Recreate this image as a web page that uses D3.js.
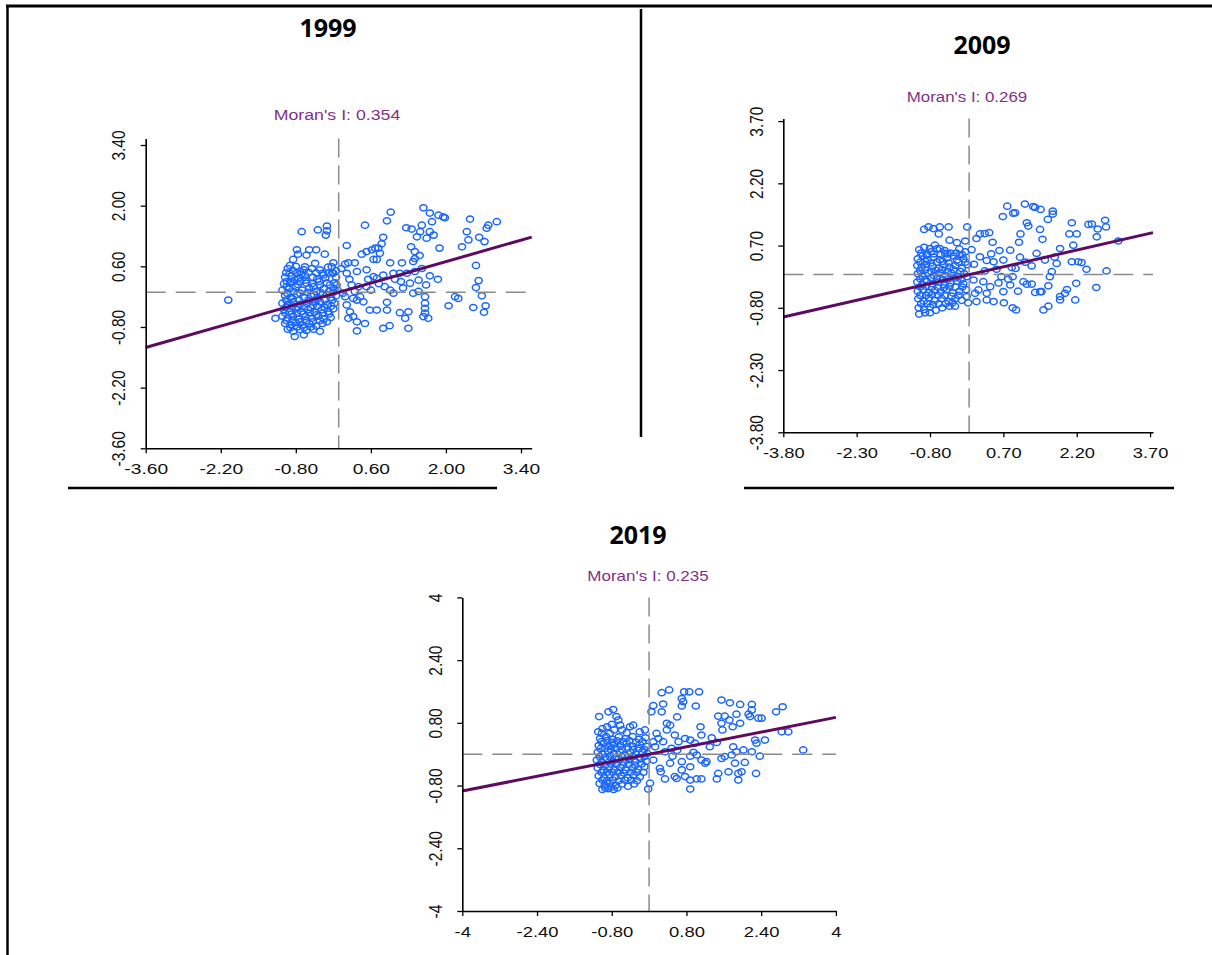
<!DOCTYPE html>
<html>
<head>
<meta charset="utf-8">
<script src="https://cdn.jsdelivr.net/npm/d3@7"></script>
<style>
body { margin: 0; background: #fff; }
</style>
</head>
<body>
<svg id="chart" width="1212" height="955"></svg>
<script>
var years = ["1999", "2009", "2019"];
var moranI = [0.354, 0.269, 0.235];

var ticks1999 = [-3.6, -2.2, -0.8, 0.6, 2.0, 3.4];
var ticks2009 = [-3.8, -2.3, -0.8, 0.7, 2.2, 3.7];
var ticks2019 = [-4, -2.4, -0.8, 0.8, 2.4, 4];
var labels1999 = ["-3.60", "-2.20", "-0.80", "0.60", "2.00", "3.40"];
var labels2009 = ["-3.80", "-2.30", "-0.80", "0.70", "2.20", "3.70"];
var labels2019 = ["-4", "-2.40", "-0.80", "0.80", "2.40", "4"];

// [standardized value, spatial lag]
var pts1999 = [
  [1.58,1.95],[0.97,1.85],[1.70,1.83],[1.86,1.78],[1.95,1.74],[1.98,1.72],[2.45,1.69],[0.90,1.65],[1.55,1.55],[0.49,1.55],
  [1.74,1.63],[2.95,1.63],[2.79,1.55],[2.76,1.48],[1.26,1.49],[1.36,1.46],[-0.69,1.40],[-0.39,1.44],[-0.22,1.53],[-0.22,1.42],
  [-0.24,1.32],[1.52,1.40],[1.70,1.40],[1.77,1.32],[1.46,1.28],[1.64,1.25],[2.39,1.40],[2.62,1.27],[2.42,1.21],[2.72,1.17],
  [0.83,1.27],[0.80,1.12],[0.74,1.02],[0.15,1.08],[1.35,1.05],[1.42,0.94],[1.51,0.85],[1.88,1.02],[2.30,1.05],[-0.78,0.98],
  [-0.55,0.98],[-0.42,0.98],[-0.76,0.88],[-0.60,0.86],[-0.26,0.88],[-0.85,0.76],[0.43,0.88],[0.52,0.94],[0.62,0.98],[0.68,1.02],
  [0.71,0.76],[0.77,0.90],[0.65,0.76],[-0.91,0.62],[-0.44,0.67],[-0.63,0.59],[0.12,0.65],[0.18,0.68],[0.30,0.68],[0.96,0.68],
  [1.18,0.68],[1.42,0.78],[1.39,0.71],[2.56,0.62],[-0.10,0.68],[-0.13,0.59],
  [-0.91,0.44],[-0.78,0.44],[-0.72,0.48],[-0.30,0.44],[-0.19,0.44],[-0.10,0.44],[0.15,0.44],[0.34,0.48],[0.52,0.52],[0.65,0.36],
  [0.71,0.32],[0.83,0.40],[1.02,0.44],[1.14,0.44],[1.27,0.44],[1.42,0.48],[1.55,0.55],[1.70,0.38],[1.16,0.25],[1.33,0.21],
  [1.49,0.28],[1.63,0.17],[2.61,0.27],[2.56,0.11],[2.67,-0.08],[-2.06,-0.18],[-0.97,0.25],[-0.88,0.25],[-0.97,0.13],[-0.82,0.28],
  [-0.72,0.25],[-0.60,0.21],[-0.47,0.13],[-0.35,0.17],[-0.16,0.17],[-0.10,0.09],[-0.04,0.17],[0.24,0.17],[0.37,0.13],[0.52,0.13],
  [0.86,0.13],[0.96,0.05],[1.02,-0.02],[1.39,-0.02],[1.49,0.02],[1.61,-0.10],[2.17,-0.10],[2.23,-0.14],[2.05,-0.31],[1.61,-0.25],
  [1.61,-0.37],[1.61,-0.48],[1.58,-0.56],[1.67,-0.60],[2.51,-0.35],[2.74,-0.31],[2.71,-0.46],[0.90,-0.23],[0.90,-0.41],[0.71,-0.41],
  [0.58,-0.41],[1.14,-0.47],[1.30,-0.45],[1.24,-0.60],[0.83,-0.83],[0.95,-0.77],[1.30,-0.83],[0.34,-0.89],[0.49,-0.72],[0.34,-0.68],
  [0.18,-0.60],[0.27,-0.56],[0.21,-0.45],[0.15,-0.29],[0.34,-0.18],[0.46,-0.22],[0.12,-0.10],[0.27,-0.14],[0.40,-0.10],
  [0.55,0.30],[0.60,0.05],[0.75,0.20],[1.05,0.30],[1.20,0.10],[1.85,0.30],[0.20,0.30],[0.05,0.55],[0.30,0.02],[0.08,-0.02],
  [-0.95,0.55],[-0.80,0.60],[-0.65,0.52],[-0.50,0.55],[-0.35,0.52],[-0.20,0.58],[-0.05,0.50],
  [-1.00,0.35],[-0.88,0.38],[-0.75,0.33],[-0.62,0.38],[-0.48,0.35],[-0.40,0.30],[-0.25,0.33],[-0.05,0.35],
  [-1.05,0.05],[-0.92,0.08],[-0.80,0.12],[-0.68,0.05],[-0.55,0.10],[-0.42,0.02],[-0.28,0.08],[-0.18,0.02],[-0.02,0.05],
  [-1.00,-0.08],[-0.90,-0.12],[-0.78,-0.05],[-0.65,-0.12],[-0.52,-0.08],[-0.40,-0.15],[-0.30,-0.05],[-0.15,-0.12],[-0.05,-0.08],
  [-1.05,-0.25],[-0.95,-0.28],[-0.85,-0.22],[-0.72,-0.28],[-0.60,-0.25],[-0.48,-0.30],[-0.35,-0.22],[-0.22,-0.28],[-0.08,-0.25],
  [-1.02,-0.40],[-0.92,-0.45],[-0.80,-0.38],[-0.70,-0.44],[-0.57,-0.40],[-0.45,-0.46],[-0.32,-0.40],[-0.20,-0.44],[-0.10,-0.38],
  [-1.05,-0.55],[-0.95,-0.60],[-0.85,-0.55],[-0.75,-0.62],[-0.62,-0.56],[-0.50,-0.60],[-0.38,-0.55],[-0.28,-0.62],[-0.15,-0.58],
  [-1.00,-0.72],[-0.90,-0.75],[-0.80,-0.70],[-0.68,-0.76],[-0.55,-0.72],[-0.42,-0.78],[-0.30,-0.72],
  [-0.95,-0.85],[-0.85,-0.90],[-0.72,-0.86],[-0.60,-0.88],[-0.47,-0.85],[-0.35,-0.90],[-0.82,-1.02],[-0.65,-0.98],[-1.18,-0.60],
  [-0.98,0.45],[-0.85,0.50],[-0.70,0.42],[-0.56,0.46],[-0.42,0.45],[-0.28,0.40],[-0.12,0.45],
  [-1.02,0.20],[-0.90,0.22],[-0.76,0.18],[-0.62,0.28],[-0.50,0.20],[-0.36,0.25],[-0.22,0.22],[-0.08,0.22],
  [-0.96,-0.02],[-0.84,0.02],[-0.72,-0.02],[-0.58,0.00],[-0.46,-0.05],[-0.34,0.00],[-0.22,-0.05],[-0.10,0.00],
  [-0.98,-0.18],[-0.86,-0.15],[-0.74,-0.18],[-0.56,-0.18],[-0.44,-0.22],[-0.26,-0.18],[-0.12,-0.18],
  [-0.98,-0.34],[-0.86,-0.32],[-0.76,-0.35],[-0.64,-0.34],[-0.52,-0.36],[-0.40,-0.32],[-0.26,-0.35],[-0.14,-0.32],
  [-1.00,-0.48],[-0.88,-0.50],[-0.78,-0.48],[-0.66,-0.50],[-0.54,-0.48],[-0.42,-0.52],[-0.30,-0.48],[-0.18,-0.50],
  [-0.98,-0.65],[-0.86,-0.64],[-0.72,-0.68],[-0.60,-0.65],[-0.48,-0.68],[-0.35,-0.65],[-0.22,-0.68],
  [-0.90,-0.82],[-0.78,-0.80],[-0.65,-0.82],[-0.52,-0.80]
];

var pts2009 = [
  [0.78,1.65],[1.14,1.70],[1.31,1.64],[1.35,1.62],[1.46,1.57],[0.94,1.49],[0.90,1.48],[0.69,1.40],[1.71,1.53],[1.71,1.46],
  [1.61,1.33],[2.78,1.31],[2.80,1.15],[2.63,1.10],[2.44,1.21],[2.51,1.22],[2.10,1.25],[1.18,1.25],[1.21,1.17],[1.45,1.09],
  [1.50,0.85],[2.05,0.98],[2.20,0.98],[2.13,0.71],[2.61,0.91],[3.05,0.81],[1.05,0.98],[1.02,0.78],[-0.92,1.09],[-0.83,1.15],
  [-0.73,1.11],[-0.60,1.15],[-0.42,1.15],[-0.62,0.98],[-0.04,1.15],[0.15,0.87],[0.22,0.98],[0.32,0.99],[0.41,1.01],[0.48,0.78],
  [-0.40,0.83],[-0.25,0.77],[-0.08,0.81],[-0.70,0.71],[-0.80,0.63],[-0.87,0.47],[-0.60,0.63],[-0.49,0.51],[-0.25,0.35],[-0.19,0.47],
  [0.62,0.58],[0.84,0.59],[1.04,0.42],[0.22,0.43],[0.36,0.34],[0.50,0.31],[1.38,0.51],[1.55,0.35],[1.86,0.63],[1.75,0.42],
  [1.79,0.27],[2.10,0.31],[2.23,0.31],[2.30,0.29],[2.40,0.13],[2.81,0.09],[1.65,-0.05],[1.69,0.07],[1.28,0.21],[1.11,-0.17],
  [1.18,-0.23],[1.28,-0.23],[1.45,-0.41],[1.35,-0.43],[1.48,-0.41],[1.62,-0.27],[2.00,-0.36],[1.96,-0.45],[1.86,-0.53],[1.86,-0.61],
  [2.19,-0.21],[2.17,-0.61],[2.60,-0.31],[0.84,-0.25],[0.70,-0.41],[0.71,-0.68],[0.89,-0.80],[0.96,-0.85],[1.52,-0.85],[1.62,-0.76],
  [0.36,-0.61],[0.50,-0.65],[-0.29,-0.76],[-0.02,-0.68],[0.15,-0.65],[0.32,0.09],[0.56,0.13],[0.87,0.17],[0.66,-0.05],[0.80,-0.11],
  [0.89,-0.05],[0.09,-0.13],[0.29,-0.17],[0.43,-0.29],[0.19,-0.37],[-0.05,-0.53],[0.12,-0.45],[0.36,-0.45],[-0.05,-0.05],
  [0.10,0.25],[0.45,0.50],[0.70,0.35],[0.95,0.15],[1.15,0.30],[0.05,0.60],[0.60,-0.20],[1.00,-0.40],
  [-1.02,0.60],[-0.92,0.66],[-0.78,0.55],[-0.66,0.62],[-0.50,0.58],[-0.38,0.52],[-0.20,0.62],[-0.08,0.55],
  [-1.05,0.38],[-0.95,0.45],[-0.85,0.35],[-0.72,0.42],[-0.60,0.36],[-0.45,0.40],[-0.32,0.45],[-0.12,0.38],
  [-1.06,0.22],[-0.97,0.18],[-0.88,0.25],[-0.75,0.20],[-0.62,0.15],[-0.52,0.24],[-0.40,0.18],[-0.28,0.22],[-0.15,0.15],[-0.03,0.24],
  [-1.05,0.02],[-0.95,-0.04],[-0.84,0.04],[-0.72,-0.02],[-0.60,0.05],[-0.48,-0.03],[-0.36,0.03],[-0.22,-0.05],[-0.10,0.02],
  [-1.06,-0.18],[-0.96,-0.24],[-0.86,-0.16],[-0.74,-0.22],[-0.63,-0.18],[-0.50,-0.25],[-0.38,-0.20],[-0.25,-0.16],[-0.12,-0.22],
  [-1.05,-0.40],[-0.94,-0.36],[-0.83,-0.44],[-0.70,-0.38],[-0.58,-0.42],[-0.46,-0.36],[-0.33,-0.44],[-0.20,-0.40],[-0.06,-0.36],
  [-1.04,-0.58],[-0.93,-0.64],[-0.82,-0.56],[-0.70,-0.62],[-0.56,-0.58],[-0.42,-0.65],[-0.28,-0.58],[-0.15,-0.62],
  [-1.03,-0.80],[-0.92,-0.84],[-0.80,-0.78],[-0.68,-0.86],[-0.55,-0.80],[-0.40,-0.76],
  [-1.02,-0.95],[-0.90,-0.92],[-0.80,-0.92],
  [-0.98,0.52],[-0.86,0.50],[-0.72,0.50],[-0.58,0.48],[-0.44,0.50],[-0.26,0.52],[-0.14,0.48],
  [-1.00,0.30],[-0.90,0.32],[-0.78,0.28],[-0.66,0.30],[-0.54,0.32],[-0.42,0.28],[-0.22,0.30],[-0.08,0.30],
  [-1.00,0.10],[-0.90,0.12],[-0.78,0.08],[-0.68,0.10],[-0.55,0.12],[-0.44,0.08],[-0.32,0.12],[-0.18,0.08],
  [-1.00,-0.10],[-0.90,-0.12],[-0.78,-0.08],[-0.66,-0.10],[-0.54,-0.12],[-0.42,-0.10],[-0.30,-0.08],[-0.16,-0.12],
  [-1.00,-0.30],[-0.88,-0.28],[-0.76,-0.30],[-0.64,-0.30],[-0.52,-0.32],[-0.40,-0.28],[-0.28,-0.30],[-0.14,-0.30],
  [-1.00,-0.50],[-0.88,-0.50],[-0.76,-0.48],[-0.64,-0.50],[-0.50,-0.50],[-0.36,-0.52],[-0.22,-0.50],
  [-0.98,-0.70],[-0.86,-0.70],[-0.74,-0.72],[-0.62,-0.70],[-0.48,-0.70],[-0.34,-0.68]
];

var pts2019 = [
  [0.43,1.64],[0.27,1.57],[0.75,1.59],[0.86,1.59],[1.07,1.59],[0.70,1.42],[0.73,1.34],[0.70,1.23],[1.00,1.23],[0.09,1.24],
  [0.30,1.28],[0.05,1.08],[0.27,1.08],[1.55,1.38],[1.73,1.31],[1.95,1.27],[2.20,1.27],[2.86,1.21],[2.72,1.08],[2.20,1.13],
  [2.13,1.02],[2.16,0.96],[2.34,0.92],[2.41,0.92],[1.48,0.97],[1.62,0.97],[1.72,0.87],[1.87,1.02],[1.95,0.79],[1.79,0.70],
  [1.55,0.79],[1.57,0.62],[2.84,0.57],[2.98,0.57],[3.30,0.11],[-1.07,0.96],[-0.87,1.08],[-0.77,1.14],[-0.70,0.96],[-0.66,0.87],
  [-0.80,0.76],[-0.62,0.74],[-1.09,0.57],[-1.01,0.53],[-0.84,0.53],[-0.34,0.74],[-0.41,0.70],[-0.20,0.57],[-0.09,0.62],[0.16,0.53],
  [0.38,0.79],[0.38,0.62],[0.45,0.74],[0.09,0.32],[0.20,0.40],[0.30,0.32],[0.55,0.49],[0.63,0.32],[0.77,0.40],[0.88,0.36],
  [0.98,0.28],[1.12,0.49],[1.30,0.19],[1.34,0.42],[1.80,0.19],[1.87,0.06],[2.02,0.11],[2.20,0.06],[2.37,-0.05],[2.27,0.36],
  [2.30,0.28],[2.48,0.36],[1.55,-0.11],[1.62,-0.06],[1.77,-0.02],[0.88,-0.05],[1.02,-0.02],[1.12,-0.15],[1.20,-0.23],[1.23,-0.19],
  [1.84,-0.23],[2.05,-0.21],[0.70,-0.19],[0.70,-0.40],[0.88,-0.32],[1.48,-0.49],[1.70,-0.45],[1.91,-0.49],[1.98,-0.45],[1.91,-0.66],
  [2.29,-0.49],[1.45,-0.63],[1.12,-0.63],[1.02,-0.63],[0.77,-0.57],[0.88,-0.66],[0.59,-0.62],[0.55,-0.57],[0.34,-0.63],[0.88,-0.89],
  [0.45,-0.23],[0.23,-0.36],[0.09,-0.15],[-0.02,-0.89],[0.02,-0.74],[0.13,0.19],[0.34,0.06],[0.48,0.15],
  [0.60,0.10],[0.95,0.05],[1.45,0.30],[0.25,-0.45],[0.50,-0.05],[1.10,0.70],[0.60,0.95],
  [-1.05,0.40],[-0.92,0.45],[-0.78,0.38],[-0.65,0.44],[-0.50,0.40],[-0.35,0.45],[-0.22,0.38],[-0.08,0.42],
  [-1.08,0.22],[-0.97,0.28],[-0.86,0.20],[-0.74,0.26],[-0.62,0.22],[-0.48,0.28],[-0.35,0.20],[-0.20,0.25],[-0.05,0.20],
  [-1.10,0.05],[-1.00,0.00],[-0.88,0.08],[-0.76,0.02],[-0.63,0.06],[-0.52,-0.02],[-0.40,0.05],[-0.28,0.00],[-0.15,0.06],[-0.04,0.02],
  [-1.12,-0.15],[-1.02,-0.20],[-0.90,-0.12],[-0.78,-0.18],[-0.66,-0.14],[-0.54,-0.20],[-0.42,-0.14],[-0.30,-0.18],[-0.18,-0.12],[-0.06,-0.18],
  [-1.10,-0.35],[-0.98,-0.40],[-0.86,-0.33],[-0.74,-0.38],[-0.62,-0.34],[-0.50,-0.40],[-0.36,-0.35],[-0.24,-0.38],[-0.10,-0.32],
  [-1.08,-0.55],[-0.96,-0.60],[-0.85,-0.52],[-0.72,-0.58],[-0.60,-0.55],[-0.46,-0.60],[-0.33,-0.54],[-0.20,-0.58],
  [-1.06,-0.75],[-0.95,-0.80],[-0.84,-0.74],[-0.72,-0.80],[-0.58,-0.76],[-0.45,-0.82],[-0.32,-0.76],
  [-1.00,-0.90],[-0.88,-0.88],[-0.76,-0.90],
  [-1.00,0.65],[-0.90,0.70],[-0.75,0.62],[-0.58,0.62],[-0.48,0.55],
  [-1.02,0.32],[-0.90,0.35],[-0.80,0.30],[-0.68,0.34],[-0.56,0.32],[-0.42,0.35],[-0.28,0.30],[-0.14,0.32],
  [-1.04,0.14],[-0.94,0.15],[-0.82,0.12],[-0.70,0.14],[-0.58,0.12],[-0.46,0.16],[-0.34,0.12],[-0.22,0.14],[-0.10,0.12],
  [-1.06,-0.06],[-0.95,-0.08],[-0.84,-0.05],[-0.72,-0.08],[-0.58,-0.06],[-0.46,-0.08],[-0.35,-0.06],[-0.22,-0.08],[-0.10,-0.06],
  [-1.05,-0.26],[-0.94,-0.28],[-0.82,-0.25],[-0.70,-0.26],[-0.56,-0.28],[-0.44,-0.26],[-0.30,-0.28],[-0.16,-0.25],
  [-1.02,-0.46],[-0.90,-0.46],[-0.78,-0.46],[-0.66,-0.46],[-0.54,-0.48],[-0.40,-0.46],[-0.26,-0.46],[-0.12,-0.46],
  [-1.00,-0.66],[-0.90,-0.68],[-0.78,-0.66],[-0.65,-0.68],[-0.52,-0.66],[-0.38,-0.66],[-0.26,-0.68],
  [-0.94,-0.86],[-0.82,-0.84],[-0.68,-0.86]
];

// panel placement on the page (layout only)
var panels = [
  { pts: pts1999, ticks: ticks1999, labels: labels1999, xDom: [-3.6, 3.6], yDom: [-3.6, 3.55],
    xr: [145.7, 531.7], yr: [448.3, 138.5], sx: 1.24, title: [328, 37], moran: [337, 120] },
  { pts: pts2009, ticks: ticks2009, labels: labels2009, xDom: [-3.8, 3.76], yDom: [-3.8, 3.76],
    xr: [783.3, 1153], yr: [432.3, 118.6], sx: 1.18, title: [982, 54], moran: [967, 102] },
  { pts: pts2019, ticks: ticks2019, labels: labels2019, xDom: [-4, 4], yDom: [-4, 4],
    xr: [462.3, 835.9], yr: [911, 597.4], sx: 1.19, title: [638, 544], moran: [648, 581] }
];

var svg = d3.select("#chart");

// page frame lines
var frame = [
  [6, 6, 1212, 6, 3], [7.5, 5, 7.5, 955, 2.5], [641, 9, 641, 437, 2.5],
  [68, 488, 497, 488, 2.5], [744, 488, 1174, 488, 2.5]
];
svg.selectAll("line.frame").data(frame).enter().append("line")
  .attr("class", "frame")
  .attr("x1", function(d) { return d[0]; }).attr("y1", function(d) { return d[1]; })
  .attr("x2", function(d) { return d[2]; }).attr("y2", function(d) { return d[3]; })
  .attr("stroke", "#000").attr("stroke-width", function(d) { return d[4]; });

panels.forEach(function(p, i) {
  var x = d3.scaleLinear().domain(p.xDom).range(p.xr);
  var y = d3.scaleLinear().domain(p.yDom).range(p.yr);
  var g = svg.append("g");

  // year title
  g.append("text")
    .attr("x", p.title[0]).attr("y", p.title[1])
    .attr("text-anchor", "middle")
    .style("font-family", "'Open Sans', 'Liberation Sans', sans-serif")
    .style("font-weight", "700").style("font-size", "25px")
    .text(years[i]);

  // Moran's I caption
  g.append("text")
    .attr("text-anchor", "middle")
    .attr("transform", "translate(" + p.moran[0] + "," + p.moran[1] + ") scale(" + p.sx + ",1)")
    .style("font-family", "'Liberation Sans', Arial, sans-serif")
    .style("font-size", "14.3px").attr("fill", "#84308a")
    .text("Moran's I: " + moranI[i].toFixed(3));

  // points
  g.append("g").selectAll("ellipse").data(p.pts).enter().append("ellipse")
    .attr("cx", function(d) { return x(d[0]); })
    .attr("cy", function(d) { return y(d[1]); })
    .attr("rx", 3.6).attr("ry", 3.1)
    .attr("fill", "none").attr("stroke", "#1a66ff").attr("stroke-width", 1.5);

  // zero reference lines
  g.append("line")
    .attr("x1", x(0)).attr("x2", x(0)).attr("y1", y(p.yDom[1])).attr("y2", y(p.yDom[0]))
    .attr("stroke", "#8a8a8a").attr("stroke-width", 1.5).attr("stroke-dasharray", "19,8");
  g.append("line")
    .attr("x1", x(p.xDom[0])).attr("x2", x(p.xDom[1])).attr("y1", y(0)).attr("y2", y(0))
    .attr("stroke", "#8a8a8a").attr("stroke-width", 1.5).attr("stroke-dasharray", "20,10");

  // regression line, slope = Moran's I
  var fit = d3.line().x(function(d) { return x(d); }).y(function(d) { return y(d * moranI[i]); });
  g.append("path")
    .attr("d", fit(p.xDom))
    .attr("fill", "none").attr("stroke", "#5e0a5e").attr("stroke-width", 3);

  // axes
  var xAxis = d3.axisBottom(x).tickValues(p.ticks).tickSize(5).tickSizeOuter(0)
    .tickFormat(function(d, k) { return p.labels[k]; });
  var yAxis = d3.axisLeft(y).tickValues(p.ticks).tickSize(5).tickSizeOuter(0)
    .tickFormat(function(d, k) { return p.labels[k]; });

  var gx = g.append("g").attr("transform", "translate(0," + p.yr[0] + ")").call(xAxis);
  gx.selectAll(".tick text")
    .attr("y", 26).attr("dy", 0)
    .attr("transform", "scale(" + p.sx + ",1)");

  var gy = g.append("g").attr("transform", "translate(" + p.xr[0] + ",0)").call(yAxis);
  gy.selectAll(".tick text")
    .attr("x", 0).attr("dy", "0.35em")
    .attr("text-anchor", "middle")
    .attr("transform", "translate(-27,0) scale(" + p.sx + ",1) rotate(-90)");

  [gx, gy].forEach(function(a) {
    a.select(".domain").attr("stroke", "#000").attr("stroke-width", 1.6);
    a.selectAll(".tick line").attr("stroke", "#000").attr("stroke-width", 1.3);
    a.selectAll(".tick text")
      .style("font-family", "'Liberation Sans', Arial, sans-serif")
      .style("font-size", "15.5px").attr("fill", "#111");
  });
});
</script>
</body>
</html>
